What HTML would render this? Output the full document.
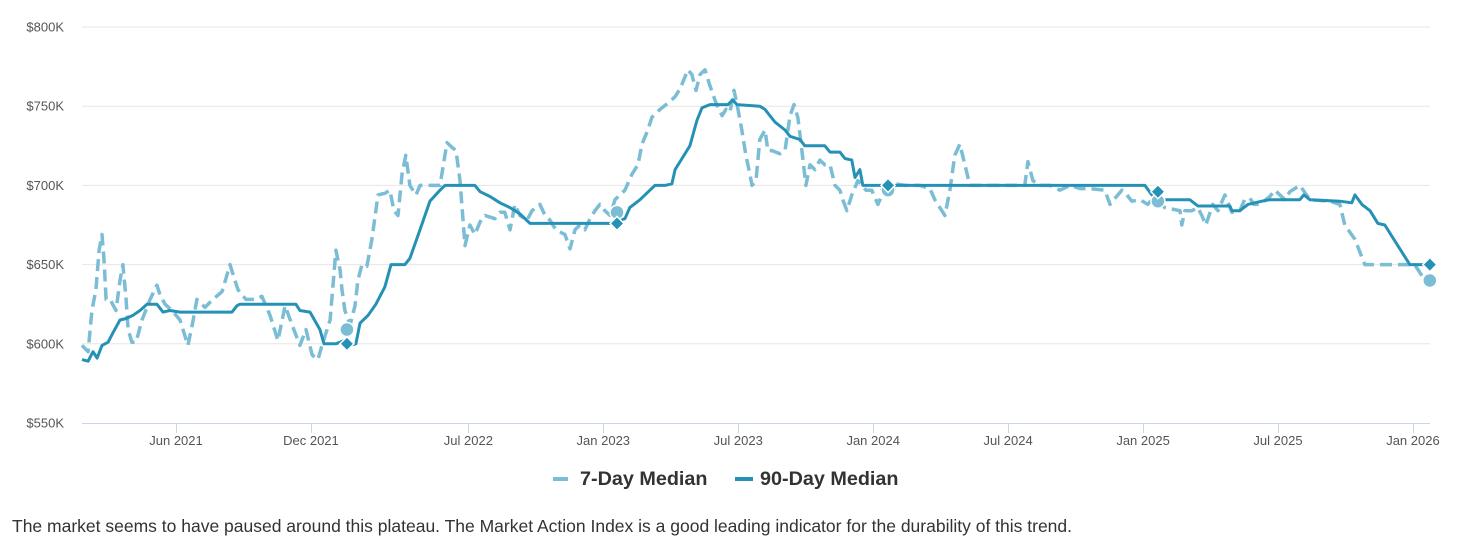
<!DOCTYPE html>
<html><head><meta charset="utf-8">
<style>
html,body{margin:0;padding:0;background:#fff;width:1470px;height:548px;overflow:hidden;font-family:"Liberation Sans",Arial,sans-serif;}
#caption{position:absolute;left:12px;top:516px;font-size:17.5px;color:#333;white-space:nowrap;}
</style></head>
<body>
<svg id="chart" width="1470" height="510" style="position:absolute;left:0;top:0" xmlns="http://www.w3.org/2000/svg">
<g id="grid"></g>
<g id="yaxis"></g>
<g id="xaxis"></g>
<g id="series"></g>
<g id="legend">
  <g>
    <line x1="553" y1="479" x2="568" y2="479" stroke="#7bbdd4" stroke-width="4"/>
    <text x="580" y="485" font-size="19.8" font-weight="bold" fill="#333">7-Day Median</text>
  </g>
  <g>
    <line x1="735" y1="479" x2="753" y2="479" stroke="#2591b5" stroke-width="4"/>
    <text x="760" y="485" font-size="19.8" font-weight="bold" fill="#333">90-Day Median</text>
  </g>
</g>
</svg>
<div id="caption">The market seems to have paused around this plateau. The Market Action Index is a good leading indicator for the durability of this trend.</div>
<script>
// months since Jan 2021
const xTicks = [5, 11, 18, 24, 30, 36, 42, 48, 54, 60];
const xTickLabels = ["Jun 2021","Dec 2021","Jul 2022","Jan 2023","Jul 2023","Jan 2024","Jul 2024","Jan 2025","Jul 2025","Jan 2026"];
const yTicks = [550, 600, 650, 700, 750, 800];
const yTickLabels = ["$550K","$600K","$650K","$700K","$750K","$800K"];

const t90 = [0.82,1.09,1.31,1.49,1.71,1.98,2.20,2.51,2.78,3.09,3.40,3.71,4.15,4.42,4.73,5.18,5.62,7.49,7.71,7.84,10.33,10.51,10.96,11.40,11.58,12.11,12.47,12.74,13.00,13.18,13.54,13.89,14.29,14.56,15.18,15.40,15.85,16.29,16.74,16.96,18.29,18.52,18.96,19.40,19.85,20.29,20.74,24.30,24.52,24.96,25.18,25.63,26.07,26.30,26.74,27.05,27.19,27.50,27.85,28.16,28.39,28.74,29.54,29.76,29.94,30.96,31.19,31.63,32.08,32.30,32.74,32.96,33.85,34.08,34.52,34.74,35.05,35.19,35.41,35.54,48.08,48.39,48.97,50.08,50.44,51.86,51.95,52.30,52.66,53.28,53.64,54.97,55.15,55.42,56.75,57.28,57.42,57.73,58.09,58.44,58.75,59.86,60.75];
const v90 = [590,589,595,591,599,601,607,615,616,618,621,625,625,620,621,620,620,620,624,625,625,621,620,609,600,600,602,599,600,613,618,625,636,650,650,654,672,690,697,700,700,696,693,689,686,682,676,676,677,679,686,691,697,700,700,701,710,717,725,741,749,751,751,754,751,750,748,740,735,731,729,725,725,721,721,717,716,705,710,700,700,694,691,691,687,687,684,684,688,690,691,691,694,691,690,689,694,688,684,676,675,650,650];

const t7 = [0.82,1.09,1.26,1.44,1.58,1.71,1.80,1.89,2.07,2.33,2.51,2.64,2.78,2.87,3.04,3.22,3.49,3.85,4.15,4.29,4.51,4.82,5.18,5.53,5.75,5.93,6.29,6.64,7.05,7.40,7.62,7.76,8.11,8.51,8.82,9.18,9.53,9.85,10.16,10.51,10.78,11.05,11.31,11.49,11.85,12.11,12.29,12.38,12.51,12.74,12.96,13.09,13.27,13.49,13.71,13.98,14.29,14.51,14.69,14.87,15.05,15.22,15.40,15.67,15.85,16.29,16.74,17.05,17.27,17.45,17.63,17.85,18.07,18.29,18.52,18.74,19.18,19.40,19.62,19.85,20.07,20.29,20.61,20.83,21.18,21.41,21.63,21.89,22.29,22.52,22.74,22.96,23.18,23.41,23.63,23.85,24.07,24.30,24.52,24.96,25.27,25.54,25.72,25.98,26.16,26.52,26.88,27.19,27.41,27.59,27.76,27.94,28.12,28.30,28.52,28.74,28.96,29.10,29.28,29.45,29.63,29.81,29.99,30.16,30.34,30.52,30.61,30.79,30.96,31.19,31.32,31.50,31.85,32.08,32.30,32.48,32.65,32.83,33.01,33.19,33.41,33.63,33.85,34.08,34.30,34.52,34.65,34.83,35.05,35.32,35.50,35.68,35.94,36.21,36.39,36.66,36.97,37.41,38.08,38.52,38.74,39.19,39.41,39.63,39.85,40.08,40.30,42.74,42.88,43.10,43.41,43.86,44.30,44.75,45.19,45.64,46.30,46.53,46.88,47.06,47.28,47.50,47.86,48.21,48.39,48.61,48.97,49.64,49.72,49.86,50.17,50.44,50.61,50.79,51.10,51.33,51.64,51.95,52.30,52.52,52.75,52.93,53.19,53.64,53.86,54.30,54.53,54.97,55.42,56.31,56.75,56.97,57.42,57.86,58.31,60.08,60.40,60.75];
const v7 = [599,595,621,634,659,669,653,628,628,621,640,650,628,609,601,601,615,628,637,631,625,621,615,599,614,628,623,628,633,650,640,634,628,628,630,618,602,624,612,599,609,593,590,599,615,659,647,634,621,612,624,640,650,649,666,694,695,697,684,681,707,719,700,694,700,700,700,727,724,722,703,662,675,669,677,681,679,683,683,672,688,681,678,684,688,681,678,672,669,660,672,675,672,679,684,688,684,681,691,697,707,713,726,735,743,748,752,756,761,767,773,770,760,770,773,763,754,749,744,748,746,760,748,735,719,707,700,703,729,735,722,722,720,722,744,751,743,722,700,713,710,716,713,713,700,697,691,684,694,703,700,697,697,688,694,700,701,700,700,698,691,681,697,719,726,713,700,700,715,703,700,700,697,700,698,698,697,688,694,697,694,690,691,688,691,690,686,684,675,684,684,686,681,675,688,684,694,683,684,691,692,688,688,693,697,691,696,700,691,690,688,675,666,650,650,650,643,640];

const markT = [12.6, 24.61, 36.66, 48.66, 60.75];
const mark7 = [609, 683, 697, 690, 640];
const mark90 = [600, 676, 700, 696, 650];

const X0 = 63.55, XS = 22.49;
function xs(t){ return X0 + t*XS; }
function ys(v){ return 27 + (800 - v) * 1.584; }
const NS = "http://www.w3.org/2000/svg";
function mk(tag, attrs, parent){
  const e = document.createElementNS(NS, tag);
  for (const k in attrs) e.setAttribute(k, attrs[k]);
  parent.appendChild(e); return e;
}
const grid = document.getElementById('grid'), yaxis = document.getElementById('yaxis'),
      xaxis = document.getElementById('xaxis'), series = document.getElementById('series');

yTicks.forEach((v,i)=>{
  if (i>0) {
    const g = mk('line',{x1:82,x2:1430,y1:ys(v),y2:ys(v),stroke:'#e6e6e6','stroke-width':1},grid);
    
    
  }
  const t = mk('text',{x:64,y:ys(v)+4.5,'text-anchor':'end','font-size':13,fill:'#555'},yaxis);
  t.textContent = yTickLabels[i];
  
  
});
const axl = mk('line',{x1:82,x2:1430,y1:423.5,y2:423.5,stroke:'#ccd6eb','stroke-width':1},xaxis);


xTicks.forEach((t,i)=>{
  const x = Math.round(xs(t))+0.5;
  const tk = mk('line',{x1:x,x2:x,y1:423,y2:433,stroke:'#ccd6eb','stroke-width':1},xaxis);
  
  
  const tx = mk('text',{x:xs(t),y:445,'text-anchor':'middle','font-size':13,fill:'#555'},xaxis);
  tx.textContent = xTickLabels[i];
  
  
});
function pts(ts, vs){ return ts.map((t,i)=>xs(t).toFixed(1)+','+ys(vs[i]).toFixed(1)).join(' '); }
const l7 = mk('polyline',{points:pts(t7,v7),fill:'none',stroke:'#7bbdd4','stroke-width':3.5,'stroke-dasharray':'12 6','stroke-linejoin':'round'},series);


const l90 = mk('polyline',{points:pts(t90,v90),fill:'none',stroke:'#2591b5','stroke-width':3,'stroke-linejoin':'round'},series);


markT.forEach((t,i)=>{
  const c = mk('circle',{cx:xs(t),cy:ys(mark7[i]),r:7,fill:'#7bbdd4',stroke:'#fff','stroke-width':1.5},series);
  
  
  const x = xs(t), y = ys(mark90[i]);
  const d = mk('polygon',{points:`${x},${y-7} ${x+7},${y} ${x},${y+7} ${x-7},${y}`,fill:'#2591b5',stroke:'#fff','stroke-width':1.5},series);
  
  
});
</script>
</body></html>
